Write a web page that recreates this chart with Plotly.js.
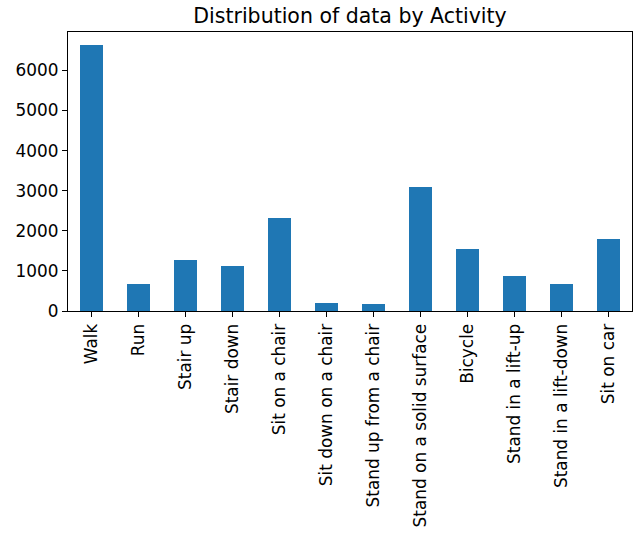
<!DOCTYPE html>
<html>
<head>
<meta charset="utf-8">
<script src="https://cdn.plot.ly/plotly-3.0.1.min.js"></script>
<style>
  html, body { margin: 0; padding: 0; background: #fff; }
  #chart { width: 634px; height: 533px; }
</style>
</head>
<body>
<div id="chart"></div>
<script>
// Number of samples recorded per activity
const activities = [
  "Walk", "Run", "Stair up", "Stair down", "Sit on a chair",
  "Sit down on a chair", "Stand up from a chair", "Stand on a solid surface",
  "Bicycle", "Stand in a lift-up", "Stand in a lift-down", "Sit on car"
];
const counts = [6625, 675, 1275, 1125, 2320, 192, 167, 3092, 1542, 867, 667, 1792];
const yTicks = [0, 1000, 2000, 3000, 4000, 5000, 6000];

const font = "DejaVu Sans, sans-serif";

const trace = {
  type: "bar",
  x: activities.map((_, i) => i),
  y: counts,
  width: 0.5,
  marker: { color: "#1f77b4", line: { width: 0 } },
  hoverinfo: "x+y"
};

const axisCommon = {
  showline: true,
  linecolor: "#000",
  linewidth: 1,
  mirror: true,
  ticks: "outside",
  ticklen: 5,
  tickwidth: 1,
  tickcolor: "#000",
  showgrid: false,
  zeroline: false,
  tickfont: { family: font, size: 16.9, color: "#000" }
};

const layout = {
  width: 634,
  height: 533,
  margin: { l: 68, r: 2, t: 32, b: 222 },
  paper_bgcolor: "#fff",
  plot_bgcolor: "#fff",
  showlegend: false,
  bargap: 0,
  title: {
    text: "Distribution of data by Activity",
    font: { family: font, size: 20.5, color: "#000" },
    x: 0.5, xref: "paper", xanchor: "center",
    y: 1, yref: "paper", yanchor: "bottom",
    pad: { b: 9 }
  },
  xaxis: Object.assign({}, axisCommon, {
    range: [-0.5, activities.length - 0.5],
    tickmode: "array",
    tickvals: activities.map((_, i) => i),
    ticktext: activities,
    tickangle: -90
  }),
  yaxis: Object.assign({}, axisCommon, {
    range: [0, 6958],
    tickmode: "array",
    tickvals: yTicks,
    ticktext: yTicks.map(String)
  })
};

Plotly.newPlot("chart", [trace], layout, { displayModeBar: false, staticPlot: true });
</script>
</body>
</html>
